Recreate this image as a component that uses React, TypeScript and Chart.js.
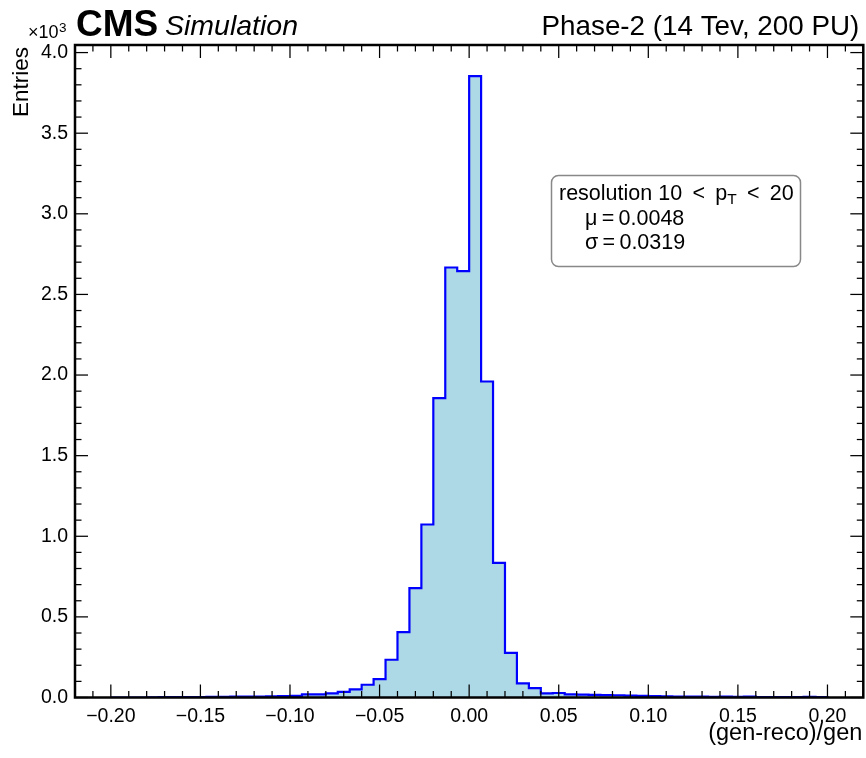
import React, { useEffect, useRef } from "react";
import { Chart, registerables } from "chart.js";

Chart.register(...registerables);

// Histogram definition
const binLow = -0.2;
const binHigh = 0.2;
const counts = [
  0, 0, 0, 1, 2, 2, 3, 3, 4, 4,
  5, 6, 5, 7, 8, 10, 20, 20, 25, 35,
  50, 79, 114, 234, 405, 678, 1073, 1857, 2667, 2645,
  3854, 1960, 835, 277, 87, 58, 25, 28, 20, 18,
  16, 15, 14, 12, 10, 8, 7, 6, 6, 5,
  4, 6, 4, 5, 3, 3, 3, 2, 4, 2,
];

// Axes
const xMin = -0.22;
const xMax = 0.22;
const yMin = 0;
const yMax = 4047;
const xMajorTicks = [-0.2, -0.15, -0.1, -0.05, 0, 0.05, 0.1, 0.15, 0.2];
const yMajorTicks = [0, 500, 1000, 1500, 2000, 2500, 3000, 3500, 4000];

// Texts
const cmsText = "CMS";
const cmsSubText = "Simulation";
const rightTitle = "Phase-2 (14 Tev, 200 PU)";
const xAxisLabel = "(gen-reco)/gen";
const yAxisLabel = "Entries";
const statHeader = ["resolution 10 \u2009<\u2009 p", "T", " \u2009<\u2009 20"];
const statLines = ["μ\u2009=\u20090.0048", "σ\u2009=\u20090.0319"];

const FONT = '"Liberation Sans", Arial, Helvetica, sans-serif';

function fmtX(v: number): string {
  const s = Math.abs(v).toFixed(2);
  return v < -1e-9 ? "\u2212" + s : s;
}

const decorPlugin = {
  id: "decor",
  afterDatasetsDraw(chart: any) {
    const { ctx, chartArea: a, scales } = chart;
    const x = scales.x;
    const y = scales.y;
    ctx.save();
    ctx.strokeStyle = "#000";
    ctx.lineWidth = 1.25;
    const seg = (x1: number, y1: number, x2: number, y2: number) => {
      ctx.beginPath();
      ctx.moveTo(x1, y1);
      ctx.lineTo(x2, y2);
      ctx.stroke();
    };
    for (let k = -22; k <= 22; k++) {
      const px = x.getPixelForValue(k / 100);
      const len = k % 5 === 0 ? 13 : 6.5;
      seg(px, a.bottom, px, a.bottom - len);
      seg(px, a.top, px, a.top + len);
    }
    for (let k = 0; k <= 40; k++) {
      const py = y.getPixelForValue(k * 100);
      const len = k % 5 === 0 ? 13 : 6.5;
      seg(a.left, py, a.left + len, py);
      seg(a.right, py, a.right - len, py);
    }
    ctx.lineWidth = 2.5;
    ctx.strokeRect(a.left, a.top, a.right - a.left, a.bottom - a.top);
    ctx.restore();
  },
  afterDraw(chart: any) {
    const { ctx, chartArea: a } = chart;
    ctx.save();
    ctx.fillStyle = "#000";
    ctx.textBaseline = "alphabetic";

    // CMS
    ctx.font = `bold 37px ${FONT}`;
    ctx.textAlign = "left";
    ctx.fillText(cmsText, 76, 36);

    ctx.font = `italic 28.5px ${FONT}`;
    ctx.fillText(cmsSubText, 165, 35);

    ctx.font = `27.8px ${FONT}`;
    ctx.textAlign = "right";
    ctx.fillText(rightTitle, a.right - 4, 35);

    // x10^3
    ctx.textAlign = "left";
    ctx.font = `18px ${FONT}`;
    ctx.fillText("\u00d710", 28, 38);
    const w10 = ctx.measureText("\u00d710").width;
    ctx.font = `13.5px ${FONT}`;
    ctx.fillText("3", 28 + w10 + 0.5, 32);

    // y label
    ctx.save();
    ctx.font = `22.5px ${FONT}`;
    ctx.translate(28, a.top + 2);
    ctx.rotate(-Math.PI / 2);
    ctx.textAlign = "right";
    ctx.fillText(yAxisLabel, 0, 0);
    ctx.restore();

    // x label
    ctx.font = `23.5px ${FONT}`;
    ctx.textAlign = "right";
    ctx.fillText(xAxisLabel, a.right - 1, 740);

    // stats box
    ctx.beginPath();
    ctx.roundRect(551.5, 175.5, 249, 91, 7);
    ctx.fillStyle = "#fff";
    ctx.fill();
    ctx.strokeStyle = "#888";
    ctx.lineWidth = 1.5;
    ctx.stroke();

    ctx.fillStyle = "#000";
    ctx.textAlign = "left";
    ctx.font = `21.5px ${FONT}`;
    let cx = 559;
    ctx.fillText(statHeader[0], cx, 200);
    cx += ctx.measureText(statHeader[0]).width;
    ctx.font = `15.5px ${FONT}`;
    ctx.fillText(statHeader[1], cx, 204);
    cx += ctx.measureText(statHeader[1]).width;
    ctx.font = `21.5px ${FONT}`;
    ctx.fillText(statHeader[2], cx, 200);
    ctx.fillText(statLines[0], 585, 224.5);
    ctx.fillText(statLines[1], 585, 249);
    ctx.restore();
  },
};

export default function App() {
  const ref = useRef<HTMLCanvasElement | null>(null);

  useEffect(() => {
    if (!ref.current) return;
    const w = (binHigh - binLow) / counts.length;
    const points = counts.map((c, i) => ({ x: binLow + i * w, y: c }));
    points.push({ x: binHigh, y: counts[counts.length - 1] });
    points.push({ x: binHigh, y: 0 });

    const chart = new Chart(ref.current, {
      type: "line",
      data: {
        datasets: [
          {
            data: points,
            stepped: true,
            borderColor: "#0000ff",
            borderWidth: 2.2,
            backgroundColor: "#add8e6",
            fill: "origin",
            pointRadius: 0,
            tension: 0,
          },
        ],
      },
      options: {
        animation: false,
        responsive: false,
        devicePixelRatio: 1,
        layout: { padding: { left: 0, right: 2.7, top: 45, bottom: 0.5 } },
        plugins: {
          legend: { display: false },
          tooltip: { enabled: false },
        },
        scales: {
          x: {
            type: "linear",
            min: xMin,
            max: xMax,
            grid: { display: false, drawTicks: false },
            border: { display: false },
            afterBuildTicks: (s: any) => {
              s.ticks = xMajorTicks.map((v) => ({ value: v }));
            },
            afterFit: (s: any) => {
              s.height = 60;
            },
            ticks: {
              autoSkip: false,
              maxRotation: 0,
              padding: 7,
              color: "#000",
              font: { family: FONT, size: 19.5 },
              callback: (v: any) => fmtX(Number(v)),
            },
          },
          y: {
            type: "linear",
            min: yMin,
            max: yMax,
            grid: { display: false, drawTicks: false },
            border: { display: false },
            afterBuildTicks: (s: any) => {
              s.ticks = yMajorTicks.map((v) => ({ value: v }));
            },
            afterFit: (s: any) => {
              s.width = 75;
            },
            ticks: {
              autoSkip: false,
              padding: 7,
              color: "#000",
              font: { family: FONT, size: 19.5 },
              callback: (v: any) => (Number(v) / 1000).toFixed(1),
            },
          },
        },
      },
      plugins: [decorPlugin],
    });
    return () => chart.destroy();
  }, []);

  return (
    <div style={{ position: "absolute", left: 0, top: 0, width: 866, height: 758, background: "#fff" }}>
      <canvas ref={ref} width={866} height={758} style={{ width: 866, height: 758, display: "block" }} />
    </div>
  );
}
